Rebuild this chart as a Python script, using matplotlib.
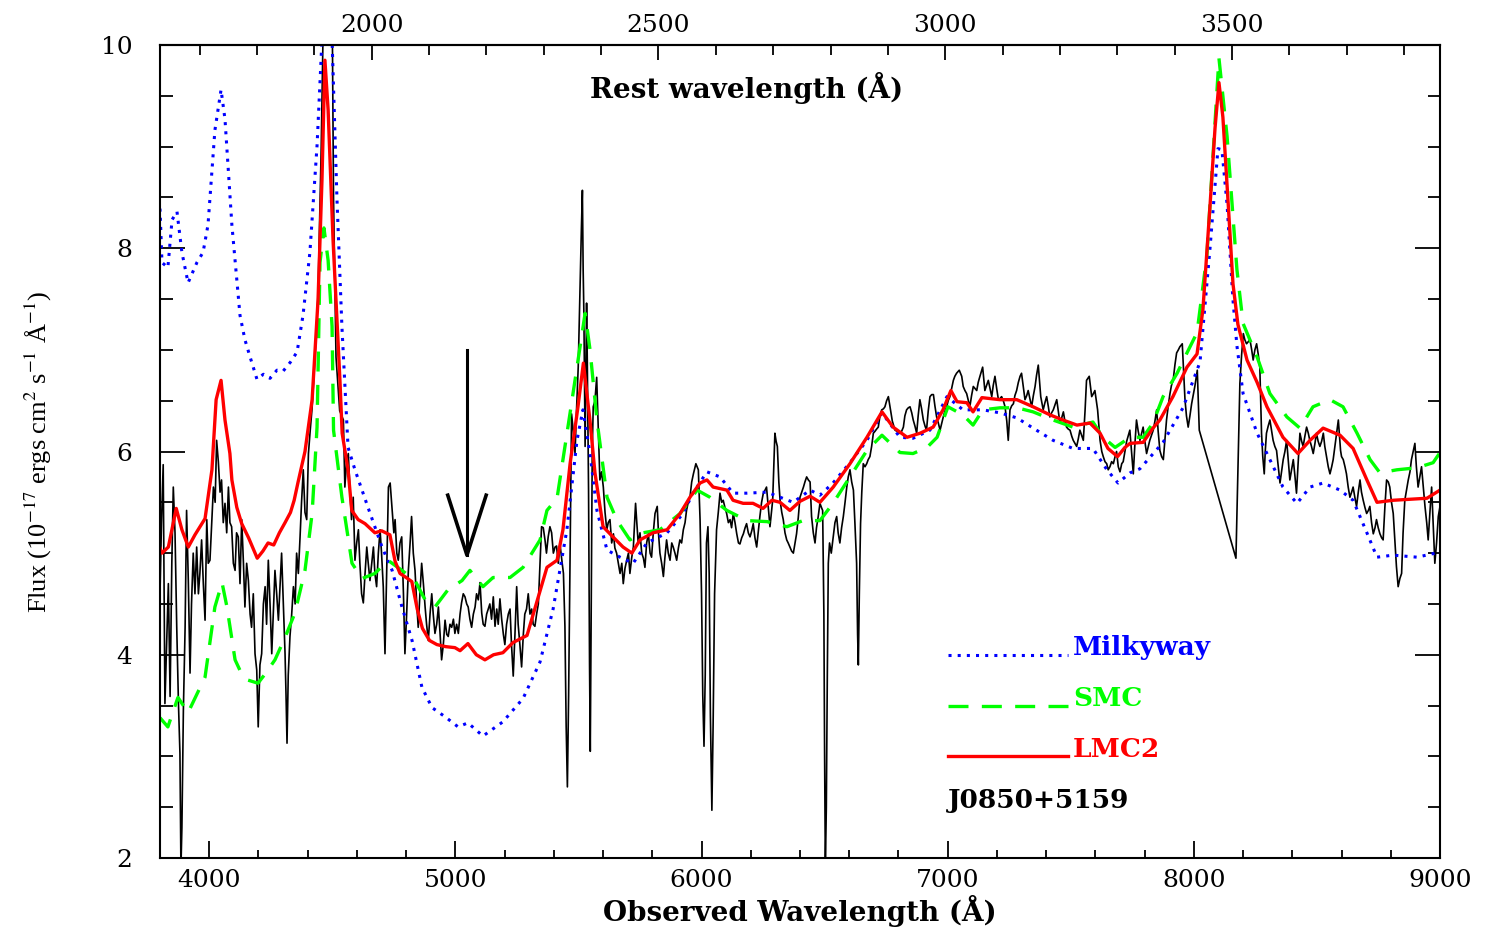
import numpy as np
import matplotlib
matplotlib.use("Agg")
import matplotlib.pyplot as plt
from matplotlib.ticker import MultipleLocator, FixedLocator

# redshift factor (1+z) linking the observed and rest frame axes
one_plus_z = 2.33

# dust-reddened composite fits: (observed wavelength [A], flux)
milkyway = [
    (3800, 8.39), (3808, 7.86), (3832, 7.81), (3849, 8.28), (3869, 8.36), (3889, 7.96),
    (3914, 7.66), (3950, 7.86), (3975, 7.96), (3995, 8.23), (4023, 9.16), (4048, 9.56),
    (4064, 9.27), (4092, 8.23), (4125, 7.34), (4145, 7.10), (4166, 6.93), (4194, 6.71),
    (4220, 6.76), (4247, 6.72), (4275, 6.80), (4300, 6.79), (4330, 6.88), (4357, 6.98),
    (4381, 7.34), (4409, 7.96), (4438, 9.01), (4458, 10.05),
    (4475, 11.0), (4490, 11.0), (4499, 10.05), (4519, 8.48), (4539, 7.23), (4564, 6.04),
    (4592, 5.82), (4645, 5.45), (4702, 5.06), (4743, 4.83), (4783, 4.47), (4824, 4.14),
    (4864, 3.68), (4905, 3.48), (4958, 3.39), (5011, 3.29), (5051, 3.33), (5112, 3.20),
    (5193, 3.34), (5275, 3.57), (5344, 3.93), (5397, 4.45), (5453, 5.23), (5494, 6.11),
    (5518, 6.41), (5547, 5.98), (5575, 5.42), (5616, 5.03), (5669, 4.96), (5722, 4.90),
    (5778, 5.10), (5860, 5.20), (5925, 5.39), (5965, 5.59), (6022, 5.80), (6075, 5.75),
    (6128, 5.59), (6185, 5.59), (6266, 5.60), (6319, 5.55), (6372, 5.50), (6441, 5.62),
    (6481, 5.57), (6534, 5.69), (6603, 5.89), (6672, 6.11), (6733, 6.38), (6806, 6.14),
    (6859, 6.13), (6928, 6.21), (6997, 6.54), (7062, 6.41), (7143, 6.41), (7213, 6.38),
    (7282, 6.33), (7347, 6.23), (7428, 6.11), (7509, 6.03), (7590, 6.03), (7647, 5.82),
    (7692, 5.69), (7741, 5.79), (7781, 5.83), (7875, 6.09), (7956, 6.43), (8025, 6.88),
    (8066, 8.01), (8098, 8.98), (8114, 8.97), (8135, 8.43), (8159, 7.49), (8175, 7.04),
    (8200, 6.57), (8257, 6.18), (8309, 5.92), (8362, 5.65), (8419, 5.49), (8472, 5.65),
    (8525, 5.69), (8594, 5.62), (8647, 5.52), (8703, 5.20), (8744, 4.96), (8809, 4.98),
    (8907, 4.96), (9000, 5.01),
]

smc = [
    (3800, 3.38), (3832, 3.29), (3873, 3.58), (3914, 3.43), (3983, 3.78), (4023, 4.47),
    (4052, 4.71), (4072, 4.47), (4105, 3.95), (4130, 3.82), (4158, 3.75), (4198, 3.72),
    (4230, 3.82), (4267, 3.95), (4308, 4.17), (4348, 4.41), (4389, 4.83), (4418, 5.39),
    (4438, 6.24), (4450, 7.86),
    (4466, 8.20), (4483, 7.88), (4499, 7.23), (4505, 6.21), (4539, 5.55), (4580, 4.90),
    (4621, 4.75), (4673, 4.80), (4726, 4.93), (4783, 4.83), (4836, 4.73), (4877, 4.54),
    (4917, 4.47), (4970, 4.64), (5027, 4.73), (5059, 4.83), (5092, 4.73), (5112, 4.67),
    (5153, 4.76), (5222, 4.76), (5275, 4.86), (5344, 5.13), (5372, 5.42), (5413, 5.54),
    (5466, 6.38), (5494, 6.83), (5527, 7.36), (5547, 7.00), (5575, 6.31), (5616, 5.55),
    (5657, 5.32), (5709, 5.13), (5762, 5.20), (5831, 5.23), (5913, 5.39), (5982, 5.62),
    (6034, 5.55), (6103, 5.42), (6185, 5.32), (6266, 5.31), (6347, 5.26), (6412, 5.32),
    (6481, 5.32), (6534, 5.49), (6603, 5.75), (6672, 6.01), (6733, 6.16), (6806, 5.99),
    (6859, 5.98), (6916, 6.04), (6957, 6.14), (7001, 6.44), (7062, 6.36), (7103, 6.26),
    (7143, 6.41), (7213, 6.43), (7282, 6.43), (7347, 6.39), (7428, 6.31), (7509, 6.24),
    (7590, 6.29), (7631, 6.14), (7680, 6.04), (7741, 6.14), (7794, 6.14), (7834, 6.28),
    (7875, 6.54), (7932, 6.77), (7972, 6.97), (8013, 7.17), (8053, 7.93), (8078, 8.92),
    (8102, 9.87), (8135, 9.10), (8175, 7.79), (8200, 7.26), (8257, 6.93), (8309, 6.57),
    (8378, 6.34), (8431, 6.23), (8484, 6.44), (8553, 6.51), (8606, 6.44), (8663, 6.18),
    (8716, 5.92), (8756, 5.79), (8825, 5.82), (8907, 5.84), (8972, 5.89), (9000, 5.99),
]

lmc2 = [
    (3800, 5.05), (3808, 5.00), (3834, 5.06), (3866, 5.44), (3889, 5.23), (3915, 5.06),
    (3942, 5.18), (3983, 5.34), (4011, 5.82), (4028, 6.51), (4048, 6.70), (4064, 6.31),
    (4084, 5.98), (4092, 5.72), (4112, 5.45), (4132, 5.29), (4160, 5.15), (4195, 4.95),
    (4218, 5.02), (4239, 5.10), (4262, 5.08), (4285, 5.20), (4308, 5.30), (4330, 5.40),
    (4345, 5.52), (4361, 5.70), (4389, 6.00), (4418, 6.51), (4442, 7.49), (4458, 8.67),
    (4470, 9.85), (4483, 9.36), (4503, 8.08), (4531, 6.70), (4540, 6.18), (4564, 5.82),
    (4579, 5.42), (4605, 5.33), (4633, 5.29), (4673, 5.20), (4700, 5.22), (4734, 5.18),
    (4755, 4.92), (4775, 4.80), (4800, 4.76), (4823, 4.72), (4845, 4.45), (4866, 4.26),
    (4895, 4.14), (4925, 4.10), (4960, 4.08), (4998, 4.07), (5019, 4.04), (5051, 4.11),
    (5085, 4.00), (5120, 3.95), (5155, 4.00), (5193, 4.02), (5234, 4.12), (5291, 4.19),
    (5338, 4.58), (5372, 4.86),
    (5413, 4.93), (5437, 5.23), (5466, 5.88), (5498, 6.44), (5520, 6.87), (5547, 6.30),
    (5567, 5.79), (5600, 5.26), (5640, 5.16), (5681, 5.06), (5717, 5.00), (5750, 5.13),
    (5803, 5.20), (5860, 5.23), (5913, 5.39), (5953, 5.55), (5994, 5.69), (6022, 5.72),
    (6047, 5.65), (6103, 5.62), (6128, 5.52), (6169, 5.49), (6209, 5.49), (6250, 5.44),
    (6286, 5.52), (6319, 5.50), (6359, 5.42), (6400, 5.51), (6441, 5.56), (6481, 5.50),
    (6535, 5.65), (6603, 5.88), (6672, 6.14), (6733, 6.39), (6778, 6.24), (6835, 6.14),
    (6888, 6.18), (6941, 6.24), (6981, 6.41), (7013, 6.60), (7038, 6.49), (7078, 6.48),
    (7103, 6.39), (7139, 6.53), (7212, 6.51), (7281, 6.51), (7347, 6.44), (7416, 6.36),
    (7468, 6.31), (7525, 6.26), (7578, 6.28), (7619, 6.18), (7651, 6.03), (7690, 5.95),
    (7720, 6.04), (7741, 6.08), (7794, 6.09), (7834, 6.23), (7862, 6.31), (7915, 6.54),
    (7972, 6.83), (8013, 6.96), (8037, 7.40), (8066, 8.43), (8086, 9.18), (8102, 9.63),
    (8118, 9.29), (8139, 8.46), (8159, 7.65), (8179, 7.25), (8216, 6.90), (8257, 6.68),
    (8297, 6.44), (8362, 6.14), (8423, 5.98), (8472, 6.11), (8525, 6.23), (8594, 6.16),
    (8647, 6.03), (8703, 5.72), (8744, 5.50), (8809, 5.52), (8947, 5.54), (9000, 5.62),
]

# observed SDSS spectrum of J0850+5159
j0850 = [
    (3800, 4.60), (3806, 5.30), (3813, 5.87), (3820, 3.52), (3827, 4.10), (3834, 4.70),
    (3841, 3.59), (3848, 4.90), (3854, 5.65), (3861, 5.20), (3868, 4.27), (3875, 3.52),
    (3881, 3.03), (3885, 1.90), (3889, 2.30), (3895, 3.46), (3902, 4.27), (3908, 5.42),
    (3915, 4.73), (3922, 3.82), (3928, 4.50), (3935, 5.00), (3942, 4.60), (3949, 5.06),
    (3956, 4.60), (3962, 4.80), (3969, 5.13), (3976, 4.70), (3983, 4.34), (3990, 5.33),
    (3996, 4.90), (4003, 4.93), (4010, 5.30), (4017, 5.65), (4024, 5.50), (4030, 6.11),
    (4037, 5.90), (4044, 5.60), (4050, 5.72), (4057, 5.30), (4064, 5.49), (4071, 5.20),
    (4078, 5.65), (4084, 5.30), (4091, 5.26), (4098, 4.90), (4105, 4.83), (4111, 5.20),
    (4118, 5.16), (4125, 4.70), (4132, 5.33), (4139, 4.90), (4145, 4.47), (4152, 4.90),
    (4159, 4.73), (4166, 4.40), (4172, 4.27), (4179, 4.60), (4186, 4.01), (4193, 3.85),
    (4199, 3.29), (4206, 3.90), (4213, 4.01), (4220, 4.50), (4227, 4.67), (4233, 4.30),
    (4240, 4.93), (4247, 4.50), (4254, 4.01), (4260, 4.40), (4267, 4.83), (4274, 4.60),
    (4281, 4.34), (4288, 4.70), (4294, 5.00), (4301, 4.50), (4308, 4.01), (4312, 3.60),
    (4316, 3.13), (4321, 3.80), (4328, 4.18), (4335, 4.40), (4342, 4.67), (4349, 4.50),
    (4355, 5.00), (4362, 4.80), (4369, 5.16), (4375, 5.50), (4382, 5.82), (4389, 5.40),
    (4396, 5.33), (4403, 5.98), (4410, 6.20), (4418, 6.43), (4430, 6.94), (4442, 7.55),
    (4455, 9.00), (4462, 10.05), (4472, 10.8), (4490, 11.0), (4500, 10.2), (4505, 8.48),
    (4515, 6.93), (4530, 6.40), (4545, 6.31), (4551, 5.65), (4558, 5.90), (4565, 5.98),
    (4572, 5.60), (4578, 5.33), (4585, 5.55), (4592, 4.93), (4599, 5.10), (4606, 5.23),
    (4612, 4.90), (4619, 4.60), (4626, 4.51), (4633, 4.80), (4640, 5.06), (4646, 4.90),
    (4653, 4.73), (4660, 4.90), (4667, 5.06), (4673, 4.80), (4680, 4.67), (4687, 5.00),
    (4694, 5.23), (4700, 5.00), (4707, 4.67), (4714, 4.01), (4721, 4.83), (4728, 5.65),
    (4735, 5.69), (4744, 5.39), (4750, 5.20), (4755, 5.33), (4762, 5.00), (4768, 4.93),
    (4775, 5.10), (4782, 5.16), (4789, 4.60), (4795, 4.01), (4802, 4.40), (4809, 4.83),
    (4816, 5.10), (4822, 5.36), (4829, 5.00), (4836, 4.83), (4843, 4.50), (4849, 4.27),
    (4856, 4.60), (4863, 4.90), (4870, 4.70), (4877, 4.47), (4883, 4.30), (4890, 4.14),
    (4897, 4.40), (4904, 4.60), (4910, 4.40), (4917, 4.21), (4924, 4.30), (4931, 4.47),
    (4938, 4.20), (4944, 3.95), (4951, 4.10), (4958, 4.34), (4965, 4.20), (4971, 4.18),
    (4978, 4.30), (4985, 4.27), (4992, 4.35), (4998, 4.21), (5005, 4.30), (5012, 4.21),
    (5019, 4.40), (5025, 4.51), (5032, 4.60), (5039, 4.57), (5046, 4.50), (5052, 4.47),
    (5059, 4.35), (5066, 4.27), (5073, 4.40), (5080, 4.47), (5086, 4.60), (5093, 4.54),
    (5100, 4.71), (5107, 4.41), (5113, 4.30), (5120, 4.28), (5127, 4.40), (5140, 4.50),
    (5147, 4.35), (5154, 4.57), (5161, 4.28), (5168, 4.45), (5174, 4.30), (5181, 4.55),
    (5188, 4.35), (5195, 4.20), (5201, 4.10), (5208, 4.30), (5215, 4.40), (5222, 4.45),
    (5228, 4.10), (5235, 3.79), (5242, 4.20), (5249, 4.67), (5255, 4.30), (5262, 4.10),
    (5269, 3.88), (5276, 4.20), (5282, 4.40), (5289, 4.45), (5296, 4.60), (5303, 4.40),
    (5310, 4.45), (5316, 4.30), (5323, 4.28), (5330, 4.40), (5337, 4.50), (5344, 4.90),
    (5350, 5.26), (5357, 5.25), (5364, 5.13), (5370, 5.00), (5377, 5.16), (5384, 5.26),
    (5391, 5.20), (5398, 5.00), (5405, 5.06), (5411, 5.07), (5418, 4.90), (5425, 5.09),
    (5432, 4.94), (5439, 4.80), (5445, 4.28), (5450, 3.30), (5455, 2.70), (5460, 3.60),
    (5465, 4.72), (5472, 6.37), (5479, 6.20), (5486, 5.98), (5492, 6.40), (5499, 6.83),
    (5506, 7.59), (5512, 8.20), (5516, 8.57), (5519, 7.80), (5522, 7.36), (5527, 6.05),
    (5530, 6.80), (5533, 7.46), (5536, 6.87), (5541, 5.62), (5545, 3.90), (5548, 3.05),
    (5552, 4.50), (5556, 6.00), (5560, 6.44), (5567, 6.50), (5574, 6.73), (5581, 6.18),
    (5587, 5.72), (5594, 5.80), (5601, 5.65), (5608, 5.40), (5615, 5.23), (5621, 5.30),
    (5628, 5.33), (5635, 5.10), (5642, 5.19), (5648, 5.05), (5655, 5.00), (5662, 4.90),
    (5669, 4.80), (5676, 4.90), (5682, 4.70), (5689, 4.85), (5696, 4.93), (5703, 5.00),
    (5709, 4.80), (5716, 4.95), (5723, 5.06), (5732, 5.49), (5737, 5.30), (5743, 5.09),
    (5750, 5.20), (5757, 5.00), (5764, 4.95), (5770, 4.86), (5777, 5.10), (5784, 5.19),
    (5791, 5.00), (5797, 4.96), (5804, 5.20), (5811, 5.39), (5820, 5.46), (5825, 5.20),
    (5831, 5.00), (5838, 4.90), (5845, 4.77), (5851, 4.95), (5858, 5.13), (5865, 5.00),
    (5872, 4.93), (5879, 5.10), (5885, 5.06), (5892, 5.00), (5899, 4.93), (5906, 5.05),
    (5912, 5.13), (5919, 5.10), (5926, 5.23), (5933, 5.30), (5939, 5.42), (5946, 5.50),
    (5953, 5.55), (5960, 5.70), (5967, 5.78), (5977, 5.88), (5987, 5.82), (5994, 5.33),
    (6000, 4.60), (6005, 3.60), (6010, 3.10), (6015, 3.80), (6020, 5.10), (6026, 5.26),
    (6031, 4.80), (6036, 3.40), (6042, 2.47), (6047, 3.30), (6053, 4.60), (6061, 5.23),
    (6068, 5.40), (6075, 5.59), (6082, 5.50), (6088, 5.52), (6095, 5.45), (6102, 5.39),
    (6109, 5.30), (6116, 5.33), (6122, 5.25), (6129, 5.39), (6136, 5.30), (6143, 5.19),
    (6150, 5.10), (6156, 5.09), (6163, 5.15), (6170, 5.19), (6177, 5.25), (6183, 5.29),
    (6190, 5.20), (6197, 5.16), (6204, 5.22), (6210, 5.29), (6217, 5.15), (6224, 5.06),
    (6230, 5.20), (6237, 5.36), (6244, 5.50), (6251, 5.59), (6258, 5.62), (6264, 5.65),
    (6271, 5.45), (6278, 5.26), (6284, 5.40), (6289, 5.52), (6294, 5.90), (6298, 6.18),
    (6303, 6.10), (6308, 6.05), (6314, 5.70), (6319, 5.52), (6326, 5.40), (6332, 5.33),
    (6339, 5.20), (6346, 5.13), (6352, 5.10), (6359, 5.06), (6366, 5.02), (6373, 5.00),
    (6380, 5.10), (6386, 5.19), (6393, 5.35), (6400, 5.55), (6407, 5.60), (6414, 5.65),
    (6420, 5.70), (6427, 5.75), (6434, 5.72), (6441, 5.70), (6447, 5.36), (6454, 5.20),
    (6461, 5.10), (6467, 5.25), (6474, 5.36), (6481, 5.49), (6487, 5.45), (6492, 5.42),
    (6497, 4.40), (6500, 3.00), (6503, 1.90), (6507, 2.50), (6511, 3.80), (6515, 4.90),
    (6520, 5.10), (6527, 5.00), (6535, 5.16), (6542, 5.30), (6549, 5.36), (6555, 5.20),
    (6562, 5.10), (6569, 5.25), (6576, 5.36), (6583, 5.50), (6590, 5.65), (6596, 5.75),
    (6603, 5.82), (6610, 5.70), (6617, 5.62), (6623, 5.30), (6630, 4.90), (6634, 4.20),
    (6637, 3.90), (6641, 4.60), (6646, 5.29), (6651, 5.60), (6657, 5.88), (6664, 5.85),
    (6671, 5.88), (6677, 5.92), (6684, 5.95), (6691, 6.05), (6698, 6.18), (6705, 6.20),
    (6711, 6.22), (6718, 6.24), (6725, 6.35), (6732, 6.41), (6739, 6.42), (6745, 6.44),
    (6752, 6.50), (6759, 6.54), (6765, 6.45), (6768, 6.41), (6775, 6.30), (6786, 6.21),
    (6793, 6.20), (6800, 6.18), (6806, 6.18), (6813, 6.20), (6820, 6.24), (6826, 6.35),
    (6833, 6.41), (6840, 6.43), (6847, 6.44), (6854, 6.38), (6860, 6.31), (6867, 6.25),
    (6874, 6.18), (6880, 6.35), (6887, 6.51), (6894, 6.42), (6901, 6.31), (6908, 6.25),
    (6914, 6.21), (6921, 6.40), (6928, 6.54), (6935, 6.56), (6942, 6.56), (6948, 6.45),
    (6955, 6.34), (6962, 6.28), (6969, 6.21), (6976, 6.28), (6982, 6.34), (6989, 6.40),
    (6996, 6.44), (7002, 6.50), (7009, 6.54), (7016, 6.62), (7023, 6.70), (7029, 6.74),
    (7036, 6.77), (7047, 6.80), (7057, 6.74), (7063, 6.64), (7070, 6.60), (7077, 6.57),
    (7084, 6.50), (7090, 6.44), (7097, 6.55), (7104, 6.64), (7111, 6.62), (7118, 6.60),
    (7124, 6.68), (7131, 6.74), (7142, 6.83), (7151, 6.60), (7158, 6.65), (7165, 6.70),
    (7172, 6.62), (7179, 6.54), (7185, 6.65), (7192, 6.74), (7199, 6.62), (7206, 6.51),
    (7212, 6.52), (7219, 6.54), (7226, 6.50), (7233, 6.44), (7240, 6.30), (7246, 6.11),
    (7253, 6.41), (7260, 6.45), (7267, 6.47), (7273, 6.55), (7280, 6.60), (7287, 6.68),
    (7294, 6.74), (7300, 6.77), (7307, 6.64), (7314, 6.51), (7321, 6.55), (7327, 6.60),
    (7334, 6.52), (7341, 6.44), (7348, 6.55), (7355, 6.64), (7361, 6.75), (7368, 6.85),
    (7378, 6.54), (7388, 6.41), (7395, 6.48), (7402, 6.54), (7409, 6.44), (7415, 6.34),
    (7422, 6.38), (7429, 6.41), (7436, 6.46), (7443, 6.51), (7449, 6.40), (7456, 6.28),
    (7463, 6.33), (7470, 6.39), (7476, 6.30), (7483, 6.24), (7490, 6.22), (7497, 6.21),
    (7504, 6.15), (7510, 6.11), (7517, 6.08), (7524, 6.05), (7531, 6.13), (7537, 6.21),
    (7544, 6.16), (7551, 6.11), (7558, 6.40), (7564, 6.70), (7575, 6.74), (7585, 6.54),
    (7592, 6.57), (7598, 6.60), (7609, 6.41), (7619, 6.11), (7626, 6.00), (7632, 5.95),
    (7639, 5.90), (7646, 5.88), (7652, 5.82), (7659, 5.85), (7666, 5.90), (7673, 5.88),
    (7680, 5.95), (7686, 6.00), (7693, 5.85), (7700, 5.80), (7707, 5.88), (7713, 5.90),
    (7720, 6.00), (7727, 6.10), (7733, 6.15), (7740, 6.21), (7747, 6.00), (7754, 5.78),
    (7760, 6.05), (7767, 6.31), (7774, 6.20), (7781, 6.11), (7788, 6.18), (7794, 6.24),
    (7801, 6.10), (7808, 5.98), (7815, 6.05), (7821, 6.11), (7828, 6.16), (7835, 6.21),
    (7842, 6.30), (7849, 6.41), (7855, 6.20), (7862, 6.01), (7869, 5.95), (7876, 5.92),
    (7882, 6.10), (7889, 6.31), (7896, 6.45), (7903, 6.57), (7909, 6.65), (7916, 6.70),
    (7923, 6.85), (7930, 6.97), (7937, 7.00), (7943, 7.03), (7953, 7.06), (7958, 6.80),
    (7964, 6.51), (7970, 6.35), (7977, 6.24), (7984, 6.35), (7991, 6.47), (7997, 6.55),
    (8004, 6.64), (8009, 6.72), (8014, 6.80), (8022, 6.21), (8171, 4.95), (8180, 5.90),
    (8187, 6.67), (8194, 6.95), (8201, 7.16), (8207, 7.10), (8214, 7.06), (8221, 7.08),
    (8228, 7.10), (8235, 7.00), (8241, 6.90), (8248, 7.00), (8255, 7.06), (8262, 6.95),
    (8268, 6.83), (8275, 6.18), (8280, 5.95), (8286, 5.78), (8290, 6.00), (8295, 6.18),
    (8302, 6.25), (8309, 6.31), (8316, 6.20), (8322, 6.11), (8329, 6.05), (8336, 6.01),
    (8343, 5.85), (8350, 5.69), (8356, 5.80), (8363, 5.92), (8370, 6.00), (8377, 6.11),
    (8384, 5.90), (8390, 5.72), (8397, 5.82), (8404, 5.92), (8411, 5.75), (8417, 5.59),
    (8424, 5.90), (8431, 6.18), (8438, 6.10), (8444, 6.05), (8451, 6.15), (8458, 6.24),
    (8465, 6.18), (8471, 6.11), (8478, 6.05), (8485, 5.98), (8492, 6.08), (8498, 6.18),
    (8505, 6.10), (8512, 6.05), (8519, 6.10), (8526, 6.18), (8532, 6.05), (8539, 5.95),
    (8546, 5.85), (8553, 5.78), (8560, 5.85), (8566, 5.92), (8573, 6.05), (8580, 6.18),
    (8587, 6.31), (8596, 6.01), (8600, 5.95), (8607, 5.92), (8614, 5.85), (8620, 5.78),
    (8627, 5.65), (8634, 5.55), (8641, 5.60), (8647, 5.65), (8654, 5.55), (8661, 5.46),
    (8668, 5.60), (8675, 5.72), (8681, 5.60), (8688, 5.52), (8695, 5.45), (8702, 5.39),
    (8709, 5.42), (8715, 5.46), (8722, 5.30), (8729, 5.19), (8736, 5.25), (8742, 5.33),
    (8749, 5.25), (8756, 5.19), (8763, 5.15), (8769, 5.13), (8776, 5.45), (8783, 5.72),
    (8790, 5.70), (8796, 5.65), (8803, 5.50), (8810, 5.39), (8817, 5.10), (8823, 4.87),
    (8830, 4.67), (8837, 4.75), (8844, 4.80), (8850, 5.20), (8857, 5.52), (8864, 5.62),
    (8871, 5.72), (8878, 5.80), (8884, 5.92), (8891, 6.00), (8898, 6.08), (8904, 5.85),
    (8911, 5.65), (8918, 5.75), (8925, 5.85), (8932, 5.65), (8939, 5.46), (8946, 5.30),
    (8952, 5.13), (8959, 5.40), (8966, 5.65), (8972, 5.30), (8979, 4.90), (8986, 5.10),
    (8993, 5.36), (9000, 5.46),
]

# arrow marking the 2175 A bump (observed frame)
arrow_wave = 5047
arrow_top, arrow_tip, arrow_arm = 7.0, 4.98, 5.57
arrow_halfwidth = 78

legend_names = ["Milkyway", "SMC", "LMC2"]
legend_levels = [4.0, 3.5, 3.0]
object_name = "J0850+5159"
rest_ticks = [2000, 2500, 3000, 3500]

SERIF = "DejaVu Serif"
plt.rcParams["mathtext.fontset"] = "stix"

fig = plt.figure(figsize=(14.95, 9.3), dpi=100)
ax = fig.add_axes([160 / 1495, 72 / 930, 1280 / 1495, 813 / 930])

blue_style = dict(color="#0000ff", lw=2.2, linestyle=(0, (1, 2)))
green_style = dict(color="#00ff00", lw=2.4, linestyle=(0, (6, 4)))
red_style = dict(color="#ff0000", lw=2.4, linestyle="-")

w, f = np.array(j0850).T
ax.plot(w, f, color="black", lw=1.2)
w, f = np.array(milkyway).T
ax.plot(w, f, **blue_style)
w, f = np.array(smc).T
ax.plot(w, f, **green_style)
w, f = np.array(lmc2).T
ax.plot(w, f, **red_style)

# arrow
ax.plot([arrow_wave, arrow_wave], [arrow_top, arrow_tip], color="black", lw=2.2)
ax.plot([arrow_wave - arrow_halfwidth, arrow_wave, arrow_wave + arrow_halfwidth],
        [arrow_arm, arrow_tip, arrow_arm], color="black", lw=2.6)

# hand drawn legend
leg_x0, leg_x1 = 7001, 7489
for name, level, style in zip(legend_names, legend_levels, [blue_style, green_style, red_style]):
    ax.plot([leg_x0, leg_x1], [level, level], **style)
    ax.text(leg_x1 + 20, level + 0.07, name, color=style["color"], fontsize=19,
            family=SERIF, fontweight="bold", va="center", ha="left")
ax.text(leg_x0, 2.57, object_name, color="black", fontsize=19, family=SERIF,
        fontweight="bold", va="center", ha="left")

ax.set_xlim(3800, 9000)
ax.set_ylim(2, 10)
ax.xaxis.set_major_locator(MultipleLocator(1000))
ax.xaxis.set_minor_locator(MultipleLocator(200))
ax.yaxis.set_major_locator(MultipleLocator(2))
ax.yaxis.set_minor_locator(MultipleLocator(0.5))
ax.tick_params(axis="x", which="major", direction="in", length=12, width=1.3, bottom=True, top=False)
ax.tick_params(axis="x", which="minor", direction="in", length=6, width=1.3, bottom=True, top=False)
ax.tick_params(axis="y", which="major", direction="in", length=18, width=1.3, left=True, right=True)
ax.tick_params(axis="y", which="minor", direction="in", length=9, width=1.3, left=True, right=True)
ax.tick_params(axis="x", labelsize=18, pad=8)
ax.tick_params(axis="y", labelsize=18, pad=20)
for lab in ax.get_xticklabels() + ax.get_yticklabels():
    lab.set_family(SERIF)
for sp in ax.spines.values():
    sp.set_linewidth(1.5)

# rest-frame axis on top
top = ax.secondary_xaxis("top", functions=(lambda x: x / one_plus_z, lambda x: x * one_plus_z))
top.xaxis.set_major_locator(FixedLocator(rest_ticks))
top.xaxis.set_minor_locator(MultipleLocator(100))
top.tick_params(axis="x", which="major", direction="in", length=11, width=1.3, labelsize=18, pad=6)
top.tick_params(axis="x", which="minor", direction="in", length=7, width=1.3)
for lab in top.get_xticklabels():
    lab.set_family(SERIF)
top.spines["top"].set_linewidth(1.5)

ax.set_xlabel("Observed Wavelength (Å)", fontsize=20, family=SERIF, fontweight="bold", labelpad=2)
ax.text(0.458, 0.947, "Rest wavelength (Å)", transform=ax.transAxes, fontsize=20,
        family=SERIF, fontweight="bold", ha="center", va="center")
ax.set_ylabel(r"Flux (10$^{-17}$ ergs cm$^{2}$ s$^{-1}$ Å$^{-1}$)", fontsize=19,
              family="Liberation Serif")
ax.yaxis.set_label_coords(-0.083, 0.5)

fig.savefig("out.png", dpi=100)
